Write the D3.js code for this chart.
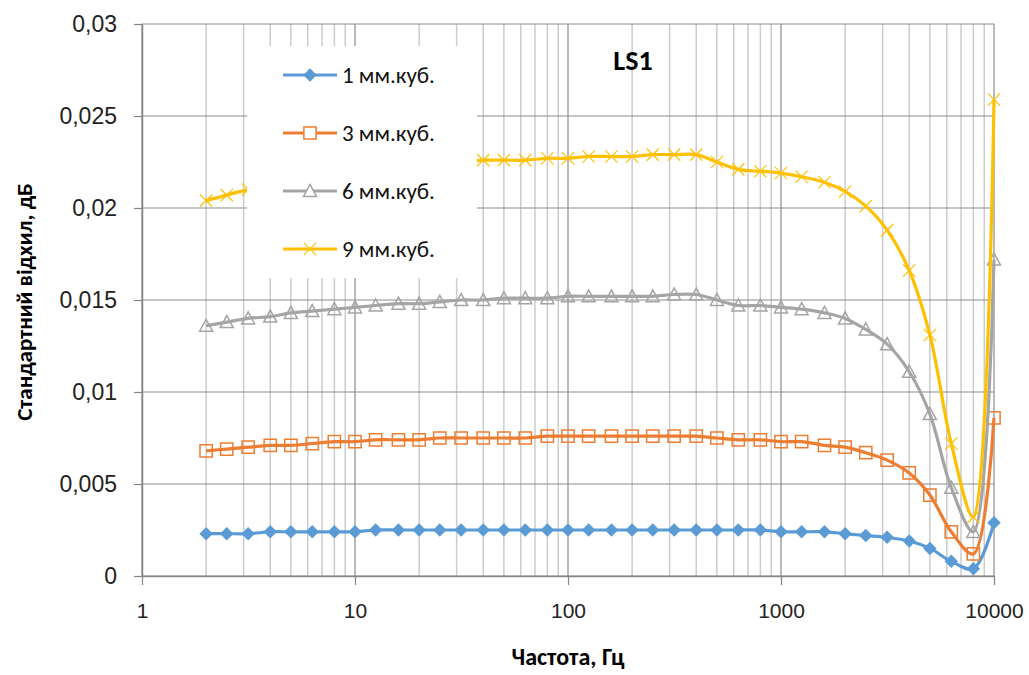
<!DOCTYPE html>
<html>
<head>
<meta charset="utf-8">
<script src="https://cdn.jsdelivr.net/npm/d3@7"></script>
<style>
  body { margin: 0; background: #fff; }
  svg { font-family: Carlito, Calibri, Lato, "Noto Sans", sans-serif; }
</style>
</head>
<body>
<svg id="chart" width="1029" height="675"></svg>
<script>
// 1/3-octave frequencies, Hz
var freqs = [2, 2.5, 3.15, 4, 5, 6.3, 8, 10, 12.5, 16, 20, 25, 31.5, 40, 50, 63, 80, 100,
  125, 160, 200, 250, 315, 400, 500, 630, 800, 1000, 1250, 1600, 2000, 2500, 3150,
  4000, 5000, 6300, 8000, 10000];

var mm1 = [0.0023, 0.0023, 0.0023, 0.0024, 0.0024, 0.0024, 0.0024, 0.0024, 0.0025, 0.0025,
  0.0025, 0.0025, 0.0025, 0.0025, 0.0025, 0.0025, 0.0025, 0.0025, 0.0025, 0.0025, 0.0025,
  0.0025, 0.0025, 0.0025, 0.0025, 0.0025, 0.0025, 0.0024, 0.0024, 0.0024, 0.0023, 0.0022,
  0.0021, 0.0019, 0.0015, 0.0008, 0.0004, 0.0029];

var mm3 = [0.0068, 0.0069, 0.0070, 0.0071, 0.0071, 0.0072, 0.0073, 0.0073, 0.0074, 0.0074,
  0.0074, 0.0075, 0.0075, 0.0075, 0.0075, 0.0075, 0.0076, 0.0076, 0.0076, 0.0076, 0.0076,
  0.0076, 0.0076, 0.0076, 0.0075, 0.0074, 0.0074, 0.0073, 0.0073, 0.0071, 0.0070, 0.0067,
  0.0063, 0.0056, 0.0044, 0.0024, 0.0012, 0.0086];

var mm6 = [0.0136, 0.0138, 0.0140, 0.0141, 0.0143, 0.0144, 0.0145, 0.0146, 0.0147, 0.0148,
  0.0148, 0.0149, 0.0150, 0.0150, 0.0151, 0.0151, 0.0151, 0.0152, 0.0152, 0.0152, 0.0152,
  0.0152, 0.0153, 0.0153, 0.0150, 0.0147, 0.0147, 0.0146, 0.0145, 0.0143, 0.0140, 0.0134,
  0.0126, 0.0111, 0.0088, 0.0048, 0.0024, 0.0172];

var mm9 = [0.0204, 0.0207, 0.0210, 0.0212, 0.0214, 0.0216, 0.0218, 0.0219, 0.0221, 0.0222,
  0.0223, 0.0224, 0.0225, 0.0226, 0.0226, 0.0226, 0.0227, 0.0227, 0.0228, 0.0228, 0.0228,
  0.0229, 0.0229, 0.0229, 0.0225, 0.0221, 0.0220, 0.0219, 0.0217, 0.0214, 0.0209, 0.0201,
  0.0188, 0.0166, 0.0131, 0.0072, 0.0032, 0.0259];

var seriesNames = ["1 мм.куб.", "3 мм.куб.", "6 мм.куб.", "9 мм.куб."];
var seriesColors = ["#5b9bd5", "#ed7d31", "#a5a5a5", "#ffc000"];
var xTicks = [1, 10, 100, 1000, 10000];
var yTicks = [0, 0.005, 0.01, 0.015, 0.02, 0.025, 0.03];

var svg = d3.select("#chart");

var x = d3.scaleLog().domain([1, 10000]).range([142, 994]),
  y = d3.scaleLinear().domain([0, 0.03]).range([576, 24]);

var ua = d3.formatLocale({ decimal: ",", thousands: " ", grouping: [3], currency: ["", ""] });
var fmtY = ua.format("~g");

// minor vertical gridlines
var minor = [];
for (var dec = 1; dec < 10000; dec *= 10) {
  for (var k = 2; k <= 9; k++) minor.push(dec * k);
}
svg.append("g")
  .selectAll("line")
  .data(minor)
  .enter()
  .append("line")
  .attr("x1", (d) => x(d)).attr("x2", (d) => x(d))
  .attr("y1", y(0.03)).attr("y2", y(0))
  .attr("stroke", "#cccccc").attr("stroke-width", 1.5);

// major gridlines
svg.append("g")
  .selectAll("line")
  .data(yTicks)
  .enter()
  .append("line")
  .attr("x1", x(1)).attr("x2", x(10000))
  .attr("y1", (d) => y(d)).attr("y2", (d) => y(d))
  .attr("stroke", "#8c8c8c").attr("stroke-width", 1.2);

svg.append("g")
  .selectAll("line")
  .data(xTicks)
  .enter()
  .append("line")
  .attr("x1", (d) => x(d)).attr("x2", (d) => x(d))
  .attr("y1", y(0.03)).attr("y2", y(0))
  .attr("stroke", "#8c8c8c").attr("stroke-width", 1.2);

// axes
var axisX = d3.axisBottom(x).tickValues(xTicks).tickFormat(d3.format("d"))
  .tickSize(9).tickSizeOuter(0).tickPadding(18);
var axisY = d3.axisLeft(y).tickValues(yTicks).tickFormat(fmtY)
  .tickSize(8).tickSizeOuter(0).tickPadding(17);

var gx = svg.append("g").attr("transform", "translate(0," + y(0) + ")").call(axisX);
var gy = svg.append("g").attr("transform", "translate(" + x(1) + ",0)").call(axisY);
[gx, gy].forEach(function (g) {
  g.selectAll("path").attr("stroke", "#868686").attr("stroke-width", 1.5);
  g.selectAll("line").attr("stroke", "#868686").attr("stroke-width", 1.2);
  g.selectAll("text").attr("fill", "#222").style("font-family", "inherit");
});
gx.selectAll("text").attr("font-size", 21);
gy.selectAll("text").attr("font-size", 23);

// custom marker shapes
var diamond = { draw: function (c, s) { var r = Math.sqrt(s) / 2 * 1.1; c.moveTo(0, -r); c.lineTo(r, 0); c.lineTo(0, r); c.lineTo(-r, 0); c.closePath(); } };
var square = { draw: function (c, s) { var r = Math.sqrt(s) / 2; c.rect(-r, -r, 2 * r, 2 * r); } };
var triangle = { draw: function (c, s) { var r = Math.sqrt(s) / 2; c.moveTo(0, -r); c.lineTo(r, r * 0.85); c.lineTo(-r, r * 0.85); c.closePath(); } };
var cross = { draw: function (c, s) { var r = Math.sqrt(s) / 2; c.moveTo(-r, -r); c.lineTo(r, r); c.moveTo(r, -r); c.lineTo(-r, r); } };

var markerTypes = [diamond, square, triangle, cross];
var markerSizes = [150, 150, 170, 150];
var markerFill = [seriesColors[0], "none", "none", "none"];
var markerStrokeW = [0, 1.5, 1.5, 1.2];

var allSeries = [mm1, mm3, mm6, mm9];

var line = d3.line()
  .x((d) => x(d[0]))
  .y((d) => y(d[1]))
  .curve(d3.curveCatmullRom.alpha(0.5));

allSeries.forEach(function (vals, i) {
  var pts = freqs.map((f, j) => [f, vals[j]]);
  var g = svg.append("g");
  g.append("path")
    .attr("d", line(pts))
    .attr("fill", "none")
    .attr("stroke", seriesColors[i])
    .attr("stroke-width", 3.2);
  g.selectAll("path.m")
    .data(pts)
    .enter()
    .append("path")
    .attr("class", "m")
    .attr("transform", (d) => "translate(" + x(d[0]) + "," + y(d[1]) + ")")
    .attr("d", d3.symbol().type(markerTypes[i]).size(markerSizes[i]))
    .attr("fill", markerFill[i])
    .attr("stroke", seriesColors[i])
    .attr("stroke-width", markerStrokeW[i]);
});

// legend
var leg = svg.append("g");
leg.append("rect")
  .attr("x", 247).attr("y", 46).attr("width", 230).attr("height", 232)
  .attr("fill", "#fff");
seriesNames.forEach(function (name, i) {
  var ly = 75 + i * 58;
  leg.append("line")
    .attr("x1", 283).attr("x2", 337).attr("y1", ly).attr("y2", ly)
    .attr("stroke", seriesColors[i]).attr("stroke-width", 3.2);
  leg.append("path")
    .attr("transform", "translate(310," + ly + ")")
    .attr("d", d3.symbol().type(markerTypes[i]).size(markerSizes[i]))
    .attr("fill", markerFill[i] === "none" ? "#fff" : markerFill[i])
    .attr("stroke", seriesColors[i])
    .attr("stroke-width", markerStrokeW[i]);
  leg.append("text")
    .attr("x", 342).attr("y", ly + 8)
    .attr("font-size", 23)
    .attr("fill", "#111")
    .text(name);
});

// title and axis labels
svg.append("text")
  .attr("x", 633).attr("y", 70)
  .attr("text-anchor", "middle")
  .attr("font-size", 28).attr("font-weight", "bold")
  .text("LS1");

svg.append("text")
  .attr("transform", "translate(32,302) rotate(-90)")
  .attr("text-anchor", "middle")
  .attr("font-size", 23).attr("font-weight", "bold")
  .text("Стандартний відхил, дБ");

svg.append("text")
  .attr("x", 568).attr("y", 665)
  .attr("text-anchor", "middle")
  .attr("font-size", 24).attr("font-weight", "bold")
  .text("Частота, Гц");
</script>
</body>
</html>
